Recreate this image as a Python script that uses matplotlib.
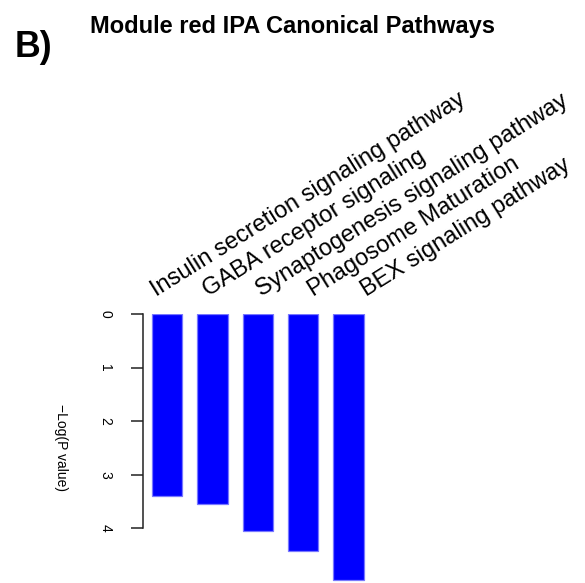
"""Module red IPA canonical pathways - inverted barplot"""

import matplotlib
matplotlib.use('Agg')
import matplotlib.pyplot as plt
import numpy as np

plt.rcParams['font.family'] = ['Liberation Sans', 'DejaVu Sans']

# Данные
pathways = ['Insulin secretion signaling pathway',
            'GABA receptor signaling',
            'Synaptogenesis signaling pathway',
            'Phagosome Maturation',
            'BEX signaling pathway']
neg_log_p = [3.40, 3.55, 4.05, 4.43, 4.97]
y_ticks = [0, 1, 2, 3, 4]

W, H = 585, 583
fig = plt.figure(figsize=(W / 100, H / 100), dpi=100)

# область графика в пикселях
left, right, top, bottom = 143.3, 380, 314, 581.5
ax = fig.add_axes([left / W, 1 - bottom / H, (right - left) / W, (bottom - top) / H])

x = np.arange(len(pathways))
ax.bar(x, neg_log_p, width=0.67, color='#0000ff', edgecolor='#7878ff', linewidth=0.9)

ax.set_xlim(-0.522, (right - 167) / 45.4)
ax.set_ylim(5.0, 0)

for side in ('top', 'right', 'bottom'):
    ax.spines[side].set_visible(False)
ax.spines['left'].set_bounds(0, 4)
ax.spines['left'].set_color('#222222')
ax.spines['left'].set_linewidth(1.1)
ax.set_xticks([])
ax.set_yticks(y_ticks)
ax.set_yticklabels([str(t) for t in y_ticks], rotation=-90, fontsize=10, va='center')
ax.tick_params(axis='y', length=8.4, width=1.1, color='#222222', pad=14)

ax.set_ylabel('\u2212Log(P value)', rotation=-90, fontsize=10, va='center', ha='center')
ax.yaxis.set_label_coords((61 - left) / (right - left), 0.5)

# подписи путей над столбцами
for i, name in enumerate(pathways):
    ax.text(-0.24 + 1.155 * i, -0.33, name, rotation=32, rotation_mode='anchor',
            ha='left', va='baseline', fontsize=17, clip_on=False)

fig.text(90 / W, 1 - 32.5 / H, 'Module red IPA Canonical Pathways',
         fontsize=17, fontweight='bold', va='baseline', ha='left')
fig.text(15 / W, 1 - 57.3 / H, 'B)', fontsize=25.7, fontweight='bold',
         va='baseline', ha='left')

fig.savefig('out.png', dpi=100)
